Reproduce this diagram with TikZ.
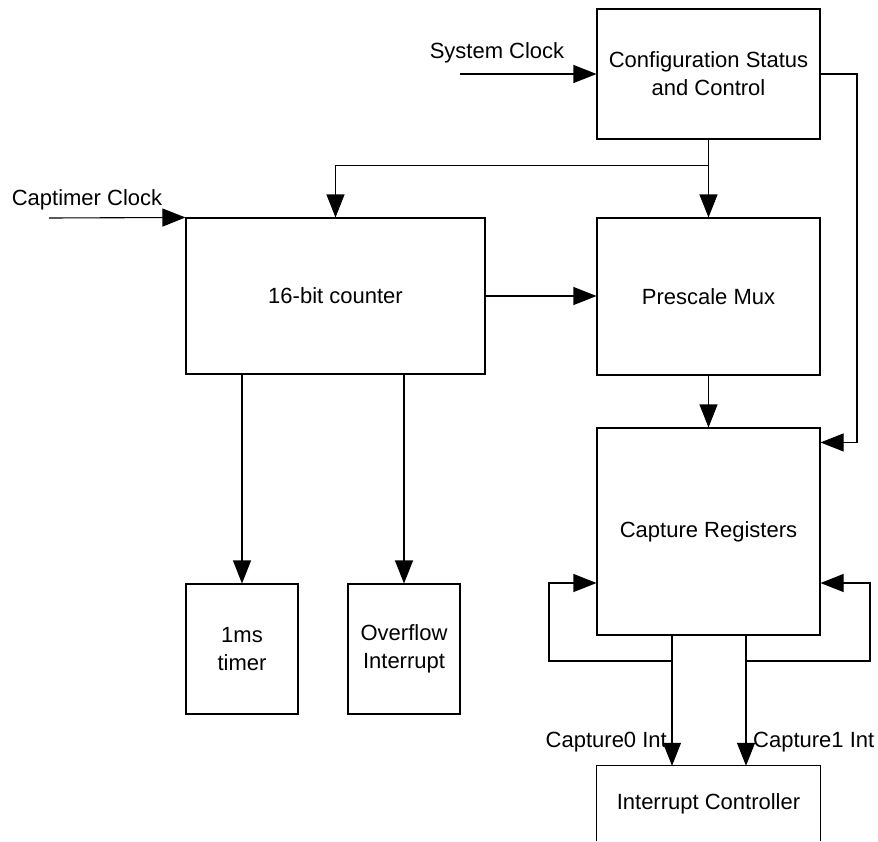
\documentclass[tikz,border=0pt]{standalone}
\usepackage{fontspec}
\setmainfont{Liberation Sans}
\usetikzlibrary{arrows.meta,calc}
\begin{document}
\begin{tikzpicture}[x=1pt,y=-1pt,
  txt/.style={font=\fontsize{22}{28}\selectfont, inner sep=0pt, align=center},
  blk/.style={txt, draw, line width=1.1pt},
  wire/.style={line width=1.1pt},
  conn/.style={line width=1.1pt, -{Triangle[length=23pt,width=18pt]}}]
\useasboundingbox (0,0) rectangle (878,841);
% blocks
\node[blk, minimum width=223pt, minimum height=130pt] (cfg) at (708.5,74) {Configuration Status\\and Control};
\node[blk, minimum width=299pt, minimum height=156pt] (cnt) at (335.5,296) {16-bit counter};
\node[blk, minimum width=223pt, minimum height=157pt] (psm) at (708.5,296.5) {Prescale Mux};
\node[blk, minimum width=223pt, minimum height=207pt] (cap) at (708.5,531.5) {Capture Registers};
\node[blk, minimum width=112pt, minimum height=130pt] (tmr) at (242,649) {1ms\\timer};
\node[blk, minimum width=112pt, minimum height=130pt] (ovf) at (404,649) {Overflow\\Interrupt};
\node[txt, minimum width=223pt, minimum height=75pt] (irq) at (708.5,803.5) {Interrupt Controller};
\draw[wire] (irq.south west) -- (irq.north west) -- (irq.north east) -- (irq.south east);
% labels
\node[txt] (lsys) at (497,53) {System Clock};
\node[txt] (lcap) at (87,200) {Captimer Clock};
\node[txt, anchor=east] (l0) at (667,742) {Capture0 Int};
\node[txt, anchor=west] (l1) at (753,742) {Capture1 Int};
% helper coordinates
\coordinate (sysin) at (460,74);
\coordinate (capin) at (49,218);
\coordinate (br) at (708.5,165.7);
\coordinate (rt) at (857,0);
\coordinate (capr) at ($(cap.north east)+(0,15)$);
\coordinate (x0) at (672,0);
\coordinate (x1) at (746,0);
\coordinate (fy) at (0,661);
\coordinate (ay) at (0,583);
\coordinate (lx) at (549,0);
\coordinate (rx) at (870,0);
% connectors
\draw[conn] (sysin) -- (cfg.west);
\draw[conn] (capin) -- (cnt.north west);
\draw[conn] (cfg.south) -- (psm.north);
\draw[conn] (br) -| (cnt.north);
\draw[conn] (cnt.east) -- (cnt.east -| psm.west);
\draw[conn] (psm.south) -- (cap.north);
\draw[conn] (cfg.east) -- (cfg.east -| rt) -- (rt |- capr) -- (capr);
\draw[conn] (cnt.south -| tmr.north) -- (tmr.north);
\draw[conn] (cnt.south -| ovf.north) -- (ovf.north);
\draw[conn] (cap.south -| x0) -- (irq.north -| x0);
\draw[conn] (cap.south -| x1) -- (irq.north -| x1);
\draw[conn] (x0 |- fy) -- (lx |- fy) -- (lx |- ay) -- (cap.west |- ay);
\draw[conn] (x1 |- fy) -- (rx |- fy) -- (rx |- ay) -- (cap.east |- ay);
\end{tikzpicture}
\end{document}
